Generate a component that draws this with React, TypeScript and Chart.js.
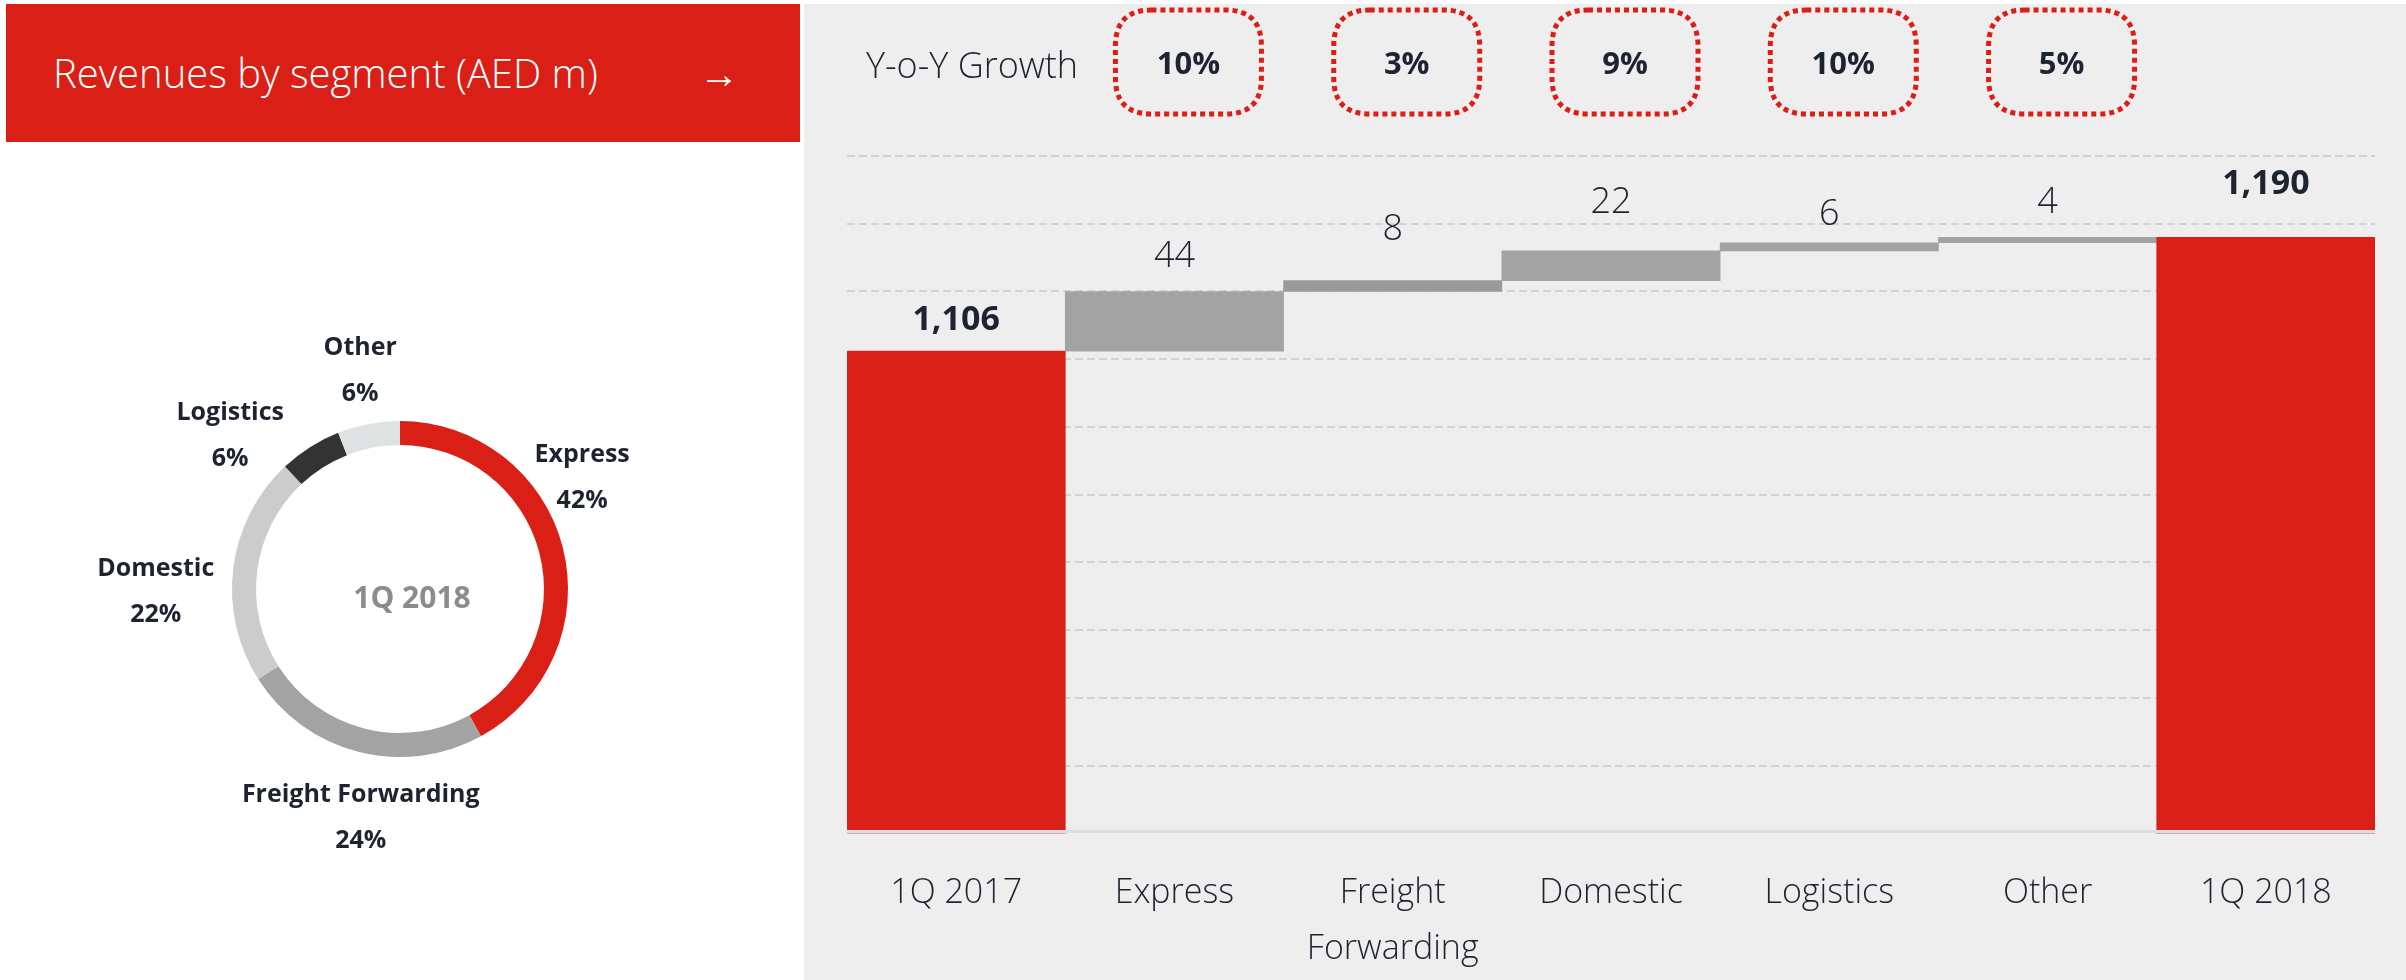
import React, { useEffect, useRef } from 'react';
import { Chart, registerables } from 'chart.js';

Chart.register(...registerables);

// ---------- data ----------
const categories: (string | string[])[] = ['1Q 2017', 'Express', ['Freight', 'Forwarding'], 'Domestic', 'Logistics', 'Other', '1Q 2018'];
const openingTotal = 1106;
const segmentIncrements = [44, 8, 22, 6, 4];
const closingTotal = 1190;
const yoyGrowth = ['10%', '3%', '9%', '10%', '5%'];
const yAxisMin = 750;
const yAxisMax = 1250;
const yAxisStep = 50;

const mixSegments = ['Express', 'Freight Forwarding', 'Domestic', 'Logistics', 'Other'];
const mixShares = [42, 24, 22, 6, 6];
const mixPeriod = '1Q 2018';

// ---------- styles ----------
const RED = '#da1f17';
const DARK = '#1d2330';
const FONT = "'Open Sans', sans-serif";
const barColors = [RED, '#a3a3a3', '#9a9a9a', '#a3a3a3', '#a3a3a3', '#a3a3a3', RED];
const labelLift = [31, 35, 51, 48, 28, 35, 53];
const mixColors = [RED, '#a3a3a3', '#cccccc', '#333333', '#dfe2e3'];
const mixLabelNudge = [[-29, -57], [15, 18], [-28, 30], [-53, 31], [1, -4]];

function buildFloating() {
  const out: number[][] = [[yAxisMin, openingTotal]];
  let run = openingTotal;
  segmentIncrements.forEach((inc) => {
    out.push([run, run + inc]);
    run += inc;
  });
  out.push([yAxisMin, closingTotal]);
  return out;
}

const valueLabels = [
  openingTotal.toLocaleString('en-US'),
  ...segmentIncrements.map((v) => String(v)),
  closingTotal.toLocaleString('en-US'),
];

function roundRect(ctx: CanvasRenderingContext2D, x: number, y: number, w: number, h: number, r: number) {
  ctx.beginPath();
  ctx.moveTo(x + r, y);
  ctx.lineTo(x + w - r, y);
  ctx.quadraticCurveTo(x + w, y, x + w, y + r);
  ctx.lineTo(x + w, y + h - r);
  ctx.quadraticCurveTo(x + w, y + h, x + w - r, y + h);
  ctx.lineTo(x + r, y + h);
  ctx.quadraticCurveTo(x, y + h, x, y + h - r);
  ctx.lineTo(x, y + r);
  ctx.quadraticCurveTo(x, y, x + r, y);
  ctx.closePath();
}

const waterfallPlugin = {
  id: 'waterfallDecor',
  afterDatasetsDraw(chart: any) {
    const ctx = chart.ctx as CanvasRenderingContext2D;
    const { chartArea } = chart;
    const xs = chart.scales.x;
    const ys = chart.scales.y;
    // axis line over bars
    const axisY = ys.getPixelForValue(yAxisMin);
    ctx.save();
    ctx.strokeStyle = '#d6dee6';
    ctx.lineWidth = 3;
    ctx.beginPath();
    ctx.moveTo(chartArea.left, axisY - 2);
    ctx.lineTo(chartArea.right, axisY - 2);
    ctx.stroke();
    ctx.restore();

    // value labels
    const meta = chart.getDatasetMeta(0);
    ctx.save();
    ctx.fillStyle = DARK;
    ctx.textAlign = 'center';
    ctx.textBaseline = 'middle';
    meta.data.forEach((el: any, i: number) => {
      const top = Math.min(el.y, el.base);
      const isTotal = i === 0 || i === meta.data.length - 1;
      ctx.font = `${isTotal ? 700 : 300} ${isTotal ? 34 : 36}px ${FONT}`;
      ctx.fillText(valueLabels[i], el.x, top - labelLift[i]);
    });
    ctx.restore();

    // Y-o-Y growth row
    ctx.save();
    ctx.fillStyle = DARK;
    ctx.font = `300 36px ${FONT}`;
    ctx.textAlign = 'left';
    ctx.textBaseline = 'middle';
    ctx.fillText('Y-o-Y Growth', chartArea.left + 19, chartArea.top - 88);
    yoyGrowth.forEach((g, i) => {
      const cx = xs.getPixelForValue(i + 1) + 14;
      const cy = chartArea.top - 94;
      const w = 146;
      const h = 104;
      ctx.save();
      ctx.strokeStyle = '#dd1e16';
      ctx.lineWidth = 5;
      ctx.setLineDash([5, 4]);
      roundRect(ctx, cx - w / 2, cy - h / 2, w, h, 36);
      ctx.stroke();
      ctx.restore();
      ctx.fillStyle = DARK;
      ctx.font = `700 31px ${FONT}`;
      ctx.textAlign = 'center';
      ctx.fillText(g, cx, cy + 3);
    });
    ctx.restore();
  },
};

const donutPlugin = {
  id: 'donutDecor',
  afterDraw(chart: any) {
    const ctx = chart.ctx as CanvasRenderingContext2D;
    const meta = chart.getDatasetMeta(0);
    if (!meta.data.length) return;
    const first = meta.data[0];
    const cx = first.x;
    const cy = first.y;
    const R = first.outerRadius + 50;
    ctx.save();
    ctx.textAlign = 'center';
    ctx.textBaseline = 'middle';
    meta.data.forEach((arc: any, i: number) => {
      const mid = (arc.startAngle + arc.endAngle) / 2;
      const x = cx + Math.cos(mid) * R + mixLabelNudge[i][0];
      const y = cy + Math.sin(mid) * R + mixLabelNudge[i][1];
      ctx.fillStyle = DARK;
      ctx.font = `700 25px ${FONT}`;
      ctx.fillText(mixSegments[i], x, y - 23);
      ctx.fillText(`${mixShares[i]}%`, x, y + 23);
    });
    ctx.fillStyle = '#8c8c8c';
    ctx.font = `700 30px ${FONT}`;
    ctx.fillText(mixPeriod, cx + 12, cy + 10);
    ctx.restore();
  },
};

function WaterfallChart() {
  const ref = useRef<HTMLCanvasElement>(null);
  useEffect(() => {
    if (!ref.current) return;
    const chart = new Chart(ref.current, {
      type: 'bar',
      data: {
        labels: categories as any,
        datasets: [
          {
            data: buildFloating() as any,
            backgroundColor: barColors,
            borderWidth: 0,
            barPercentage: 1,
            categoryPercentage: 1,
          },
        ],
      },
      options: {
        responsive: false,
        animation: false,
        events: [],
        layout: { padding: { left: 43, right: 31, top: 152, bottom: 4 } },
        plugins: { legend: { display: false }, tooltip: { enabled: false } },
        scales: {
          x: {
            grid: { display: false, drawTicks: false },
            border: { display: false },
            ticks: {
              color: DARK,
              padding: 31,
              font: { family: FONT, size: 34, weight: '300' as any, lineHeight: 1.67 },
              maxRotation: 0,
              autoSkip: false,
            },
          },
          y: {
            min: yAxisMin,
            max: yAxisMax,
            ticks: { display: false, stepSize: yAxisStep },
            border: { display: false, dash: [8, 4] },
            grid: {
              drawTicks: false,
              lineWidth: 2,
              color: (c: any) => (c.tick && c.tick.value === yAxisMin ? 'rgba(0,0,0,0)' : '#d2d2d2'),
            },
          },
        },
      },
      plugins: [waterfallPlugin],
    });
    return () => chart.destroy();
  }, []);
  return (
    <canvas
      ref={ref}
      width={1602}
      height={1009}
      style={{ position: 'absolute', left: 804, top: 4, width: 1602, height: 1009, display: 'block' }}
    />
  );
}

function DonutChart() {
  const ref = useRef<HTMLCanvasElement>(null);
  useEffect(() => {
    if (!ref.current) return;
    const chart = new Chart(ref.current, {
      type: 'doughnut',
      data: {
        labels: mixSegments,
        datasets: [{ data: mixShares, backgroundColor: mixColors, borderWidth: 0 }],
      },
      options: {
        responsive: false,
        animation: false,
        events: [],
        cutout: '85.7%',
        layout: { padding: { left: 232, right: 232, top: 279, bottom: 223 } },
        plugins: { legend: { display: false }, tooltip: { enabled: false } },
      },
      plugins: [donutPlugin],
    });
    return () => chart.destroy();
  }, []);
  return (
    <canvas
      ref={ref}
      width={800}
      height={838}
      style={{ position: 'absolute', left: 0, top: 142, width: 800, height: 838, display: 'block' }}
    />
  );
}

export default function App() {
  useEffect(() => {
    document.body.style.margin = '0';
  }, []);
  return (
    <div style={{ position: 'absolute', left: 0, top: 0, width: 2406, height: 980, background: '#ffffff', overflow: 'hidden' }}>
      <div
        style={{
          position: 'absolute',
          left: 6,
          top: 4,
          width: 794,
          height: 138,
          background: RED,
          color: '#ffffff',
          fontFamily: FONT,
          fontWeight: 300,
        }}
      >
        <span style={{ position: 'absolute', left: 47, top: 44, fontSize: 40, lineHeight: '50px', whiteSpace: 'nowrap' }}>
          Revenues by segment (AED m)
        </span>
        <span style={{ position: 'absolute', left: 693, top: 44, fontSize: 40, lineHeight: '50px' }}>→</span>
      </div>
      <DonutChart />
      <div style={{ position: 'absolute', left: 804, top: 4, width: 1602, height: 976, background: '#eeeeee' }} />
      <WaterfallChart />
    </div>
  );
}
